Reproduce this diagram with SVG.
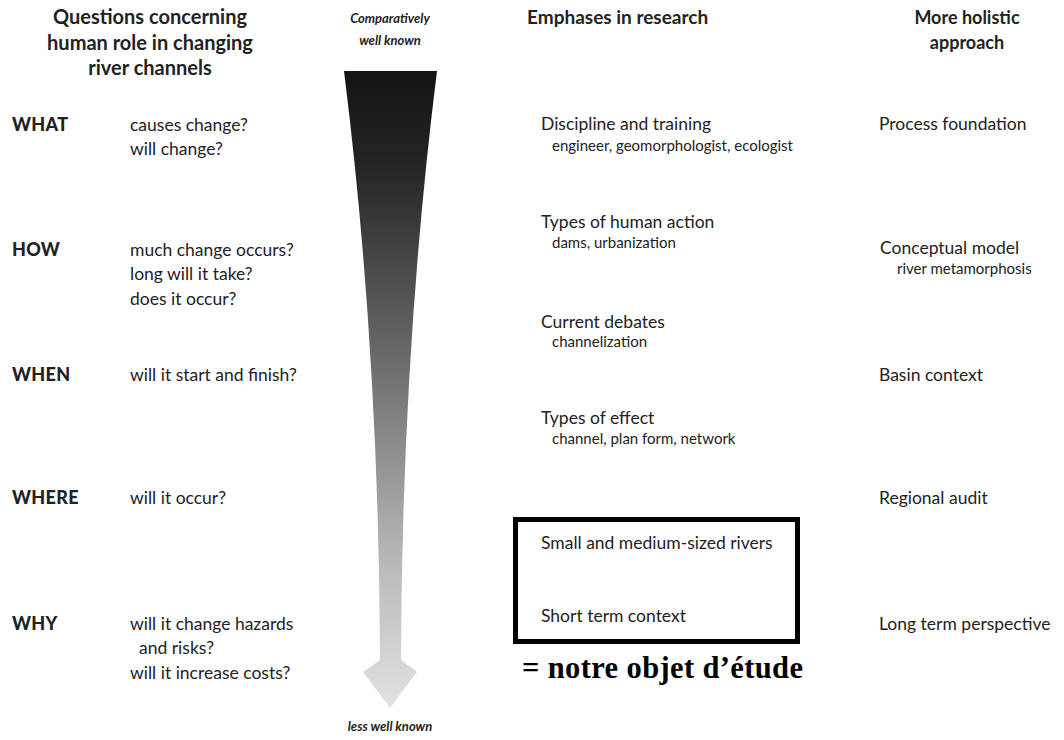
<svg xmlns="http://www.w3.org/2000/svg" width="1064" height="740" viewBox="0 0 1064 740">
<defs>
<linearGradient id="g" gradientUnits="userSpaceOnUse" x1="0" y1="71" x2="0" y2="708">
<stop offset="0" stop-color="#141414"/>
<stop offset="0.15" stop-color="#252525"/>
<stop offset="0.45" stop-color="#6a6a6a"/>
<stop offset="0.75" stop-color="#b4b4b4"/>
<stop offset="1" stop-color="#e2e2e2"/>
</linearGradient>
<style>
text{font-family:Lato,"Liberation Sans",sans-serif;fill:#222}
.h{font-size:19px;font-weight:700;text-anchor:middle}
.hq{font-size:20px}
.hl{font-size:19px;font-weight:700}
.hr{font-size:18px}
.it{font-size:13px;font-weight:700;font-style:italic;text-anchor:middle}
.k{font-size:18px;font-weight:900;letter-spacing:0.3px}
.t{font-size:17.5px}
.s{font-size:15px}
.fr{font-family:"Liberation Serif",serif;font-size:30.5px;font-weight:700;fill:#000}
</style>
</defs>
<rect width="1064" height="740" fill="#fff"/>
<g id="headers">
<text class="h hq" x="150" y="24">Questions concerning</text>
<text class="h hq" x="150" y="50">human role in changing</text>
<text class="h hq" x="150" y="75">river channels</text>
<text class="it" x="390" y="23">Comparatively</text>
<text class="it" x="390" y="45">well known</text>
<text class="hl" x="527" y="24">Emphases in research</text>
<text class="h hr" x="967" y="24">More holistic</text>
<text class="h hr" x="967" y="49">approach</text>
</g>
<g id="arrow">
<path d="M344,71 L437,71 Q402,350 401,660 L417,672 L390,708 L363,672 L380,660 Q379,350 344,71 Z" fill="url(#g)"/>
<text class="it" x="390" y="731">less well known</text>
</g>
<g id="what">
<text class="k" x="12" y="131">WHAT</text>
<text class="t" x="130" y="131">causes change?</text>
<text class="t" x="130" y="155">will change?</text>
</g>
<g id="how">
<text class="k" x="12" y="256">HOW</text>
<text class="t" x="130" y="256">much change occurs?</text>
<text class="t" x="130" y="280">long will it take?</text>
<text class="t" x="130" y="305">does it occur?</text>
</g>
<g id="when">
<text class="k" x="12" y="381">WHEN</text>
<text class="t" x="130" y="381">will it start and finish?</text>
</g>
<g id="where">
<text class="k" x="12" y="504">WHERE</text>
<text class="t" x="130" y="504">will it occur?</text>
</g>
<g id="why">
<text class="k" x="12" y="630">WHY</text>
<text class="t" x="130" y="630">will it change hazards</text>
<text class="t" x="139" y="654">and risks?</text>
<text class="t" x="130" y="679">will it increase costs?</text>
</g>
<g id="emphases">
<text class="t" x="541" y="130">Discipline and training</text>
<text class="s" x="552" y="151">engineer, geomorphologist, ecologist</text>
<text class="t" x="541" y="228">Types of human action</text>
<text class="s" x="552" y="248">dams, urbanization</text>
<text class="t" x="541" y="328">Current debates</text>
<text class="s" x="552" y="347">channelization</text>
<text class="t" x="541" y="424">Types of effect</text>
<text class="s" x="552" y="444">channel, plan form, network</text>
</g>
<g id="focus">
<rect x="515.5" y="519.5" width="282" height="122" fill="none" stroke="#000" stroke-width="5"/>
<text class="t" x="541" y="549">Small and medium-sized rivers</text>
<text class="t" x="541" y="622">Short term context</text>
<text class="fr" x="522" y="678" textLength="281" lengthAdjust="spacing">= notre objet d’étude</text>
</g>
<g id="holistic">
<text class="t" x="879" y="130">Process foundation</text>
<text class="t" x="880" y="254">Conceptual model</text>
<text class="s" x="897" y="274">river metamorphosis</text>
<text class="t" x="879" y="381">Basin context</text>
<text class="t" x="879" y="504">Regional audit</text>
<text class="t" x="879" y="630">Long term perspective</text>
</g>
</svg>
